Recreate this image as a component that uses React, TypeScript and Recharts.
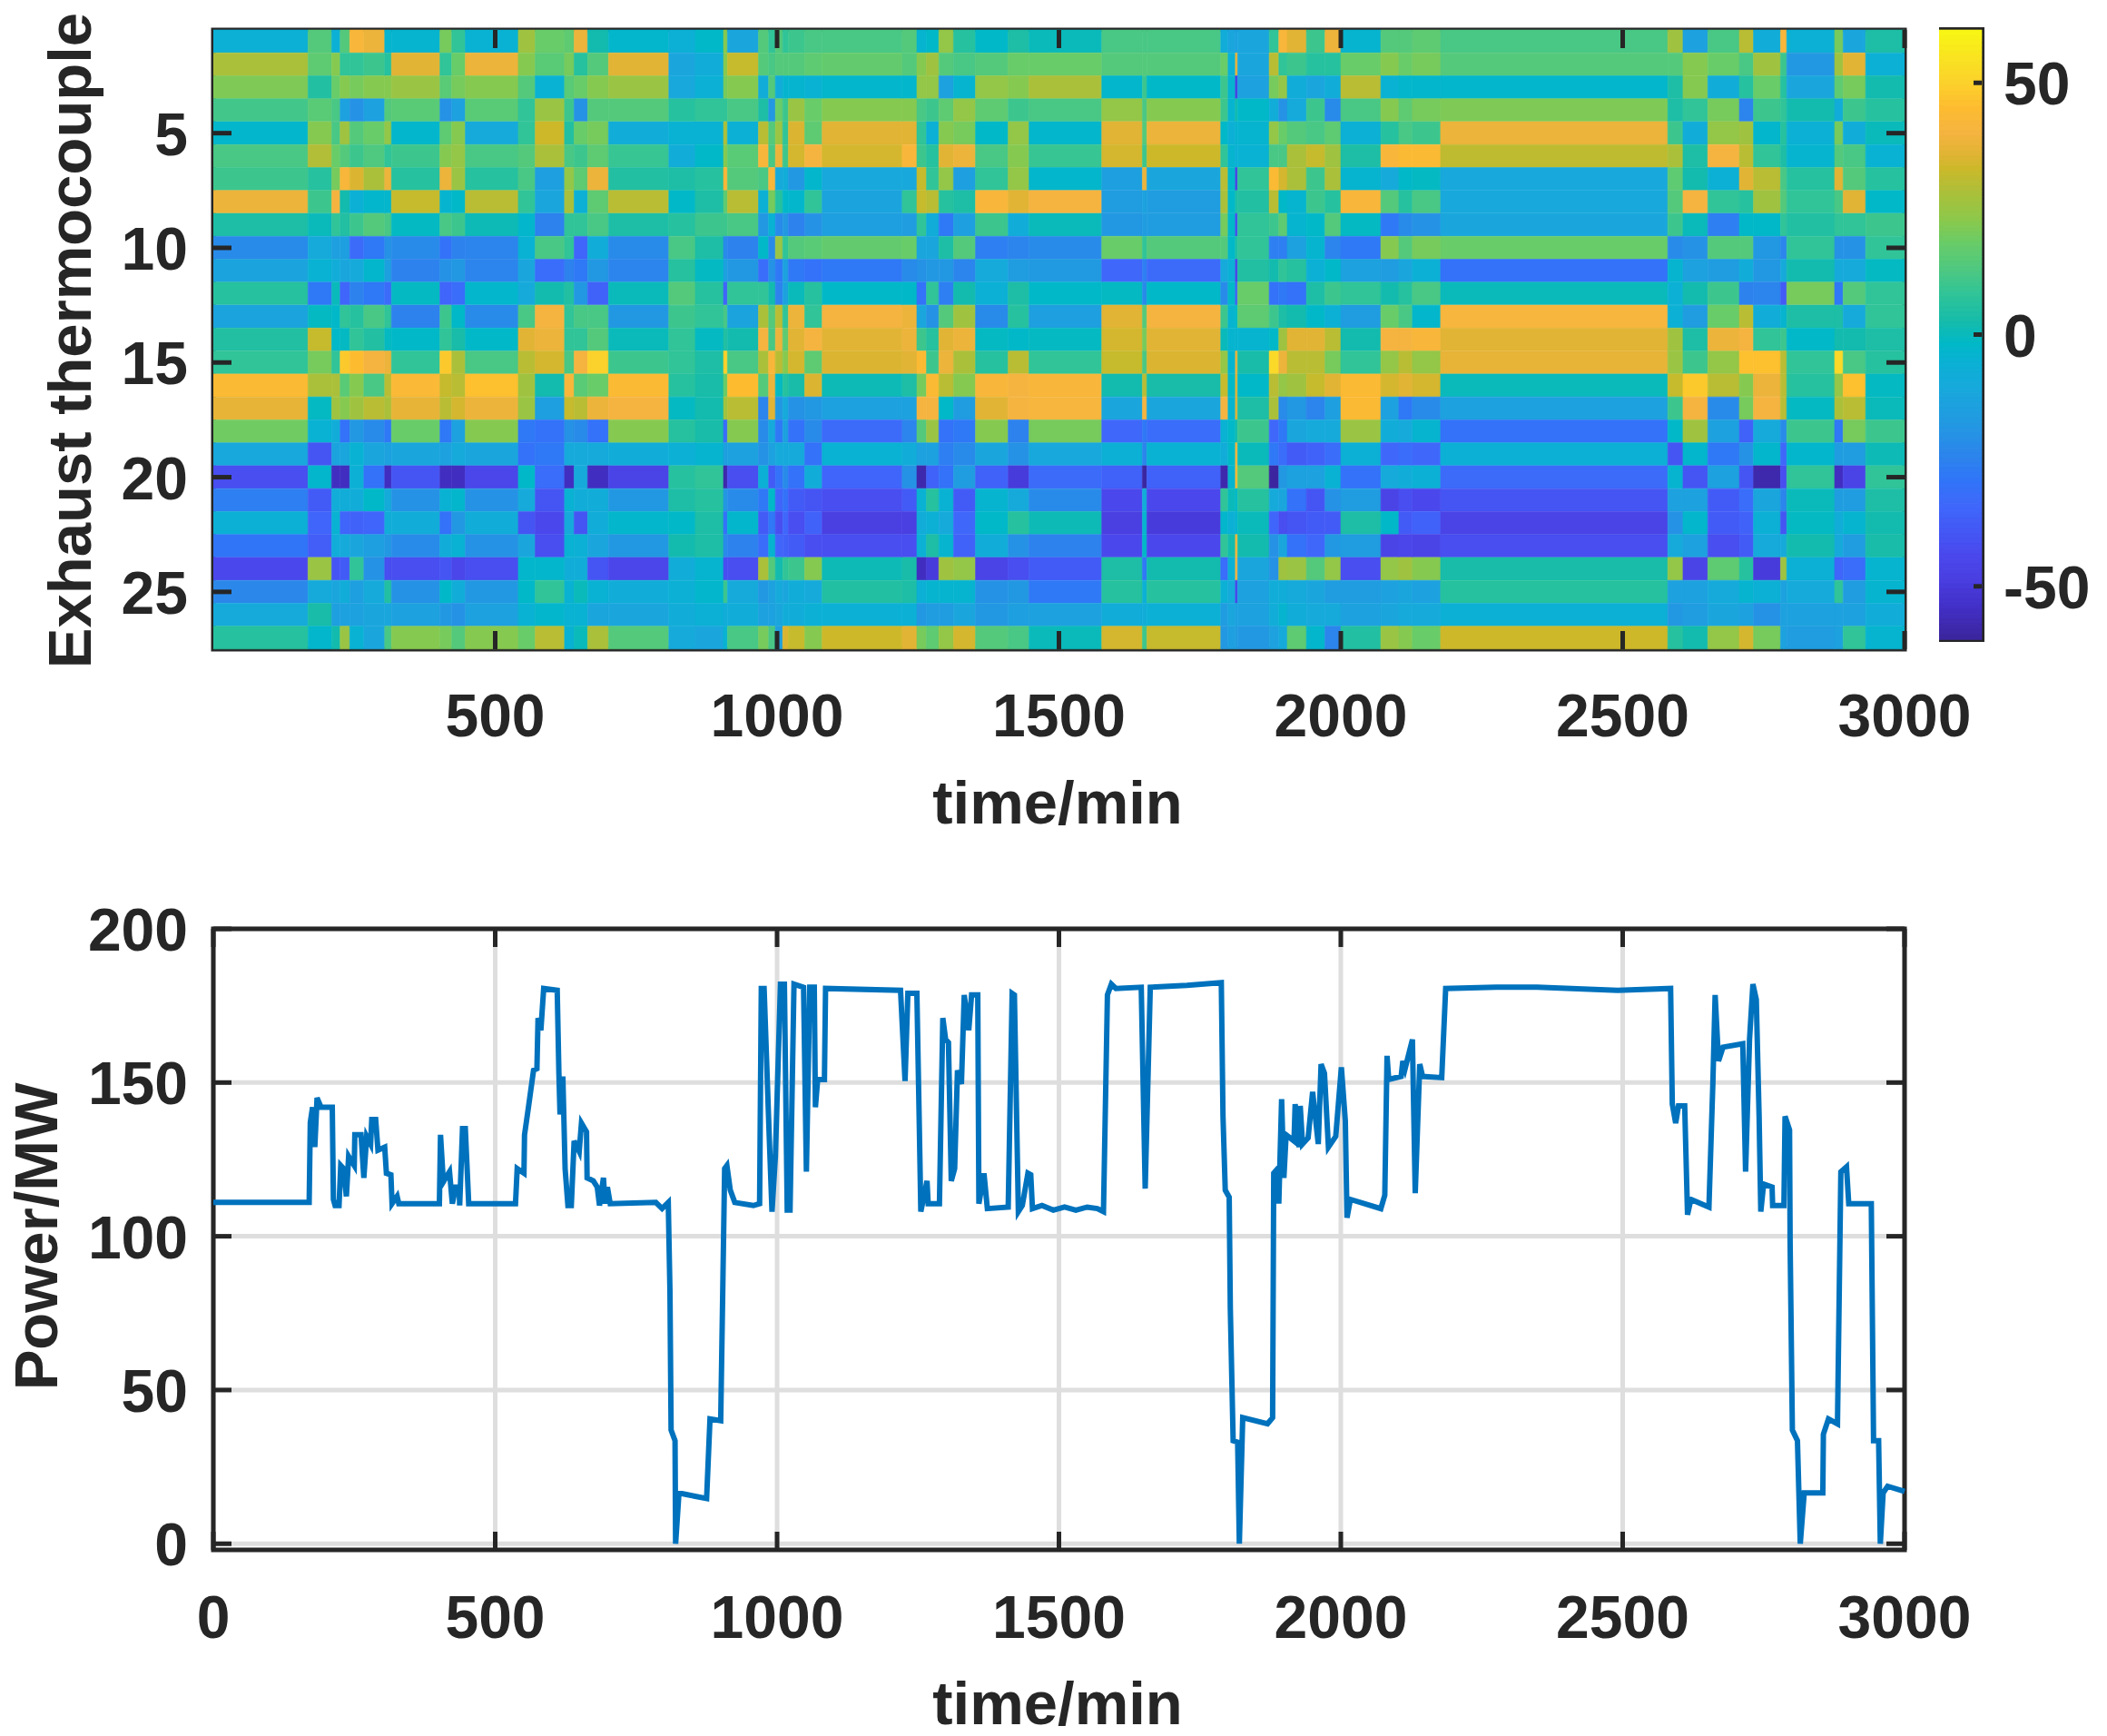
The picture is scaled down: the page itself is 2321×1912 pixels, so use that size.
import React from 'react'
import {
  Bar,
  BarChart,
  CartesianGrid,
  Cell,
  Line,
  LineChart,
  XAxis,
  YAxis,
} from 'recharts'

// ---- data ----

const timeTicks = [500, 1000, 1500, 2000, 2500, 3000]
const powerTimeTicks = [0, 500, 1000, 1500, 2000, 2500, 3000]
const powerTicks = [0, 50, 100, 150, 200]
const thermocoupleTicks = [5, 10, 15, 20, 25]
const colorbarTicks = [50, 0, -50]
const thermocouples = [1, 2, 3, 4, 5, 6, 7, 8, 9, 10, 11, 12, 13, 14, 15, 16, 17, 18, 19, 20, 21, 22, 23, 24, 25, 26, 27]

// time at which each heatmap column starts (last entry closes the final column)
const heatEdges = [
  0, 168, 210, 225, 242, 267, 304, 316, 402, 423, 447, 541, 571, 623, 640, 664, 701, 808, 855, 905,
  912, 967, 985, 997, 1010, 1020, 1049, 1080, 1222, 1248, 1265, 1287, 1313, 1352, 1410, 1447, 1576,
  1648, 1656, 1787, 1800, 1813, 1817, 1873, 1890, 1905, 1939, 1972, 2000, 2071, 2103, 2127, 2177,
  2580, 2607, 2651, 2707, 2732, 2780, 2791, 2876, 2891, 2931, 3000,
]

// one list per column, thermocouple 1 to 27 (temperature deviation)
const heatColumns = [
  [-6, 28, 21, 11, -3, 12, 10, 38, 4, -22, -13, 6, -13, 5, 8, 44, 37, 19, -11, -42, -26, -6, -29, -44, -23, -10, 6],
  [14, 16, 5, 15, 22, 29, 6, 10, 0, -10, -5, -28, -1, 32, 20, 28, -1, -5, -40, -3, -38, -35, -37, 25, -10, 3, -3],
  [-6, 22, 18, 12, 12, 18, 20, 40, 8, -15, -8, 0, -2, -2, 8, 28, 26, -8, -13, -55, -8, -5, -8, -40, -12, -15, 2],
  [14, 8, 22, -14, 26, 14, 42, 2, 5, -15, -12, -35, 8, -1, 48, 15, 22, -30, -12, -55, -8, -35, -10, -38, -8, -14, 25],
  [42, 8, 20, -20, 14, 10, 35, -6, 10, -33, -10, -25, 6, 8, 45, 22, 26, -18, -5, -6, -8, -36, -12, 8, -15, -14, -5],
  [38, 10, 22, -14, 18, 13, 28, -3, 14, -28, -3, -28, 12, 5, 40, 12, 30, -22, -12, -30, -2, -35, -15, -20, -10, -12, -12],
  [-4, 6, 22, 14, 24, 8, 38, -3, 12, -20, -15, -33, 8, -1, 38, 30, 28, -28, -14, -55, -10, -8, -18, -42, 5, -12, 12],
  [-4, 36, 25, 15, -3, 10, 6, 32, -1, -22, -25, -1, -25, -2, 8, 43, 37, 18, -12, -40, -20, -8, -22, -42, -20, -14, 22],
  [20, 8, 15, -20, 16, 22, 38, -4, 12, -30, -20, -35, 10, 8, 48, 32, 30, -28, -14, -55, -5, -30, -8, -40, -2, -18, 20],
  [8, 18, 20, -14, 22, 24, 25, -2, 10, -25, -18, -32, -2, 3, 28, 30, 34, -14, -10, -55, -3, -18, -5, -45, -8, -20, 14],
  [-5, 38, 22, 15, -10, 12, 6, 30, 1, -24, -24, -3, -22, -2, 12, 46, 38, 22, -12, -45, -20, -8, -20, -42, -18, -14, 22],
  [26, 22, 14, 8, 8, 14, 12, 8, -3, -5, -12, -10, 12, 36, 30, 26, 25, -28, -30, -2, -10, -40, -12, -3, -2, -5, 18],
  [18, 15, -5, 25, 33, 28, -15, -12, -25, 12, -32, 2, 40, 38, 34, 2, -15, -30, -28, -32, -40, -44, -42, -3, 8, -3, 30],
  [16, 20, 15, 10, 5, 12, 24, 28, 8, 8, -25, 5, 8, 8, 12, 42, 32, -20, -10, -55, -5, -10, -5, -8, -5, -5, -5],
  [38, 6, 18, -20, 18, 10, 16, -6, 8, -35, -28, -18, 12, 8, 40, 15, 30, -22, -10, -10, -8, -40, -6, -8, 0, -5, 0],
  [2, 14, 22, 14, 20, 16, 38, 16, 12, -8, -18, -36, 12, 14, 50, 18, 38, -30, -10, -55, -8, -8, -12, -40, -5, -12, 28],
  [-3, 36, 25, 14, -8, 9, 5, 30, 4, -22, -24, 0, -18, 0, 10, 44, 40, 22, -8, -46, -18, -3, -18, -45, -8, -12, 14],
  [-6, -12, -11, 6, -5, -8, 4, -2, 6, 12, 6, 14, 10, 8, 8, 6, -1, 6, -6, 6, 4, -2, 2, -8, -6, -8, -10],
  [-2, -8, -6, 8, -5, -2, 6, 4, 10, 4, -1, 6, 8, -1, 4, 3, 2, 3, -4, 8, 6, 4, 4, -4, -3, -6, -12],
  [22, 22, 20, 8, 28, 22, 42, 16, 10, -22, -14, -35, 12, 5, 50, 18, 26, -32, -15, -58, -18, -30, -22, -42, 10, -8, -5],
  [-12, 32, 22, 12, -6, 15, 14, 30, 12, -25, -18, 8, -13, 2, 12, 45, 30, 22, -14, -42, -22, -3, -25, -42, -10, -8, 12],
  [14, 14, -8, 4, 30, 42, 12, -6, -18, -2, -32, 8, 28, 40, 28, 14, -24, -22, -20, -6, -28, -38, -32, 28, -18, -14, 20],
  [8, 12, 14, -18, 14, 12, 42, 20, -5, -22, -20, 2, 14, 12, 42, 38, 36, -10, -14, -38, -2, -28, -4, 14, -14, -14, 12],
  [14, 14, -8, 18, 25, 38, -10, 6, -22, 25, -28, -25, 30, 38, 30, -1, -18, -28, -10, -30, -35, -42, -35, 2, -10, -12, -15],
  [8, 14, -4, 10, 8, 10, -8, -2, -18, 8, -14, -14, 8, 16, 22, 6, -10, -14, -10, -22, -30, -34, -36, 8, -12, -8, 35],
  [10, 14, -4, 25, 35, 34, -18, -3, -25, 14, -28, 0, 38, 36, 34, 3, -20, -30, -10, -30, -38, -42, -38, 10, -8, -8, 32],
  [12, 16, -5, 18, 16, 40, -3, 8, -20, 15, -30, 6, 8, 40, 16, 35, -18, -22, -30, -8, -40, -36, -42, 22, -10, -6, 22],
  [12, 17, -3, 22, 36, 34, -11, -13, -15, 17, -28, -2, 40, 36, 35, 1, -14, -33, -5, -35, -42, -48, -42, 1, 5, -6, 33],
  [14, 14, -3, 22, 36, 42, -11, 8, -16, 18, -22, -2, 38, 38, 36, 4, -14, -24, -8, -20, -38, -48, -42, 3, 4, -6, 36],
  [-4, 22, 24, 12, 8, 10, 32, 32, 8, -12, -20, -30, -12, 10, 44, 20, 40, 14, -14, -58, -5, -8, -6, -55, -6, -18, 20],
  [-2, 26, 24, 10, -6, 6, 8, 30, -8, -12, -18, 8, -20, 6, 10, 44, 40, 25, -14, -36, 6, -6, 4, -50, -4, -16, 16],
  [24, 14, -14, 16, 22, 36, 24, 6, -28, 4, -18, -26, 14, 36, 38, 30, -2, -30, -26, -30, -5, -10, -4, 26, -4, -16, 24],
  [6, 12, -4, 24, 20, 38, -15, 4, -15, 14, -24, 2, 26, 38, 28, 22, -16, -28, -22, -16, -38, -34, -36, 24, -4, -12, 34],
  [-2, 14, 24, 16, -2, 12, 8, 42, 10, -26, -10, -6, -22, -1, 6, 42, 36, 22, -12, -36, -4, -2, -8, -46, -20, -18, 14],
  [4, 18, 22, 10, 24, 22, 24, 36, -8, -24, -16, 4, 6, -2, 30, 40, 40, -25, -20, -50, -10, 6, -20, -42, -18, -15, 12],
  [0, 18, 28, 12, -3, 9, -3, 40, 0, -22, -17, -2, -15, -1, 8, 42, 41, 20, -11, -33, -22, 1, -25, -38, -28, -14, 0],
  [12, 14, -3, 24, 36, 34, -15, -16, -18, 18, -34, -1, 36, 34, 32, 2, -12, -34, -6, -36, -44, -48, -44, 4, 6, -8, 34],
  [12, 14, 10, 12, 14, 10, 38, -14, -16, 8, -26, -22, 14, 20, 12, 30, 40, -28, -24, -60, -8, -4, -2, -28, -6, -8, 10],
  [12, 14, -2, 22, 38, 33, -12, -16, -16, 14, -33, -2, 40, 36, 35, 3, -12, -32, -5, -36, -44, -50, -44, 2, 6, -6, 32],
  [-8, 18, 10, 10, -2, 8, 30, 28, 20, 14, -10, -22, 10, 0, 24, 32, 40, -5, -8, -58, 8, -3, 8, -32, -6, -16, -18],
  [-12, -6, -4, -4, -6, -4, -2, -2, -2, -2, -6, -2, -4, -4, -4, -2, -4, -2, -2, -4, 0, -6, 2, -6, -10, -12, -15],
  [-14, 38, -48, 2, -4, -6, -46, 4, -42, 4, -46, -36, -2, -4, 38, 36, 36, 2, 42, 44, -2, -4, 42, 40, -45, -14, -16],
  [-12, -12, -14, -2, -4, -5, 8, 5, 8, 8, 5, 18, 16, -4, 3, -2, 4, 10, 0, 14, 6, 0, 2, -12, -14, -14, -18],
  [8, 30, 20, -8, 24, 12, 44, 30, 10, -26, 2, -30, 10, -2, 52, 30, 28, -34, -28, -60, -10, -35, -20, -20, -8, -8, -14],
  [42, 8, 24, -20, 18, 12, 34, -2, 16, -26, 8, -28, 4, 26, 38, 24, -22, -28, -32, -18, -12, -42, -12, 26, -8, -4, -10],
  [36, 10, -8, -10, 14, 28, 28, -4, -4, -14, 6, -30, 2, 36, 30, 26, -18, -12, -38, -14, -30, -40, -30, 25, -10, -8, 16],
  [10, 6, -12, 10, 12, 32, 10, 10, -2, -4, -6, 4, -2, 36, 30, 32, -24, -10, -36, -14, -40, -38, -34, 14, -12, -10, -3],
  [38, 6, -8, -22, 16, 26, 28, 6, 14, -24, -2, 10, -6, 30, 20, 36, -15, -10, -32, -5, -20, -38, -18, 24, -16, -10, -24],
  [-4, 18, 30, 12, -6, 4, -4, 42, -1, -28, -14, 8, -16, 2, 8, 44, 44, 25, -6, -30, -16, 4, -16, -42, -16, -14, 5],
  [14, 22, -5, 22, 6, 42, -10, 14, -28, 22, -16, 2, 18, 40, 24, 34, -14, -8, -34, -10, -46, -2, -46, 24, -14, -12, 25],
  [14, 18, -3, 16, 12, 44, -2, 6, -22, 14, -12, 6, 12, 40, 30, 36, -28, -10, -32, -8, -42, -38, -45, 26, -12, -10, 22],
  [16, 20, -3, 20, 10, 44, -1, 12, -20, 20, -6, 12, -3, 42, 24, 34, -22, -4, -34, -6, -44, -36, -46, 22, -14, -10, 18],
  [12, 14, -3, 21, 38, 31, -11, -11, -12, 18, -30, 0, 41, 36, 37, 0, -14, -30, -6, -33, -40, -46, -42, 3, 6, -6, 33],
  [26, 14, 4, 4, 10, 28, 16, 14, 10, -22, -4, -6, -6, 26, 25, 32, 10, -2, -40, -4, -14, -20, -10, 24, -14, -18, 6],
  [-14, 22, 22, 8, -8, 4, 2, 40, 0, -20, -14, 2, -16, 4, 10, 48, 40, 26, -3, -40, -14, -3, -14, -46, -14, -16, 2],
  [12, 18, -8, 20, 24, 40, -6, 8, -26, 14, -16, 10, 18, 38, 24, 30, -22, -14, -28, -14, -38, -38, -42, 16, -10, -12, 24],
  [30, 12, 6, -24, 26, 30, 36, 6, -2, 14, -8, -25, 30, 40, 46, 22, 20, -36, -20, -40, -32, -36, -38, 6, -4, -14, 34],
  [-8, 26, 18, 10, -3, 8, 30, 26, -2, -18, -18, -24, -8, 8, 46, 38, 40, -10, -3, -58, -12, -6, -10, -50, -6, -20, 20],
  [42, 10, 6, 8, 6, 4, 12, 14, 8, -24, -10, -38, -4, 10, 30, 30, 30, -22, -34, -42, -24, -40, -10, 26, -14, -14, -14],
  [-6, -18, -12, 2, -6, -4, 6, 8, 5, 8, 2, 20, 4, -2, 8, 6, -1, 10, -3, 8, 0, -1, 2, -6, -10, -14, -16],
  [20, 26, 16, -8, 20, 14, 36, 12, 8, -20, -10, -28, 4, 2, 52, 24, 28, -28, -16, -55, -16, -8, -10, -35, 8, -14, -14],
  [-12, 36, 20, 10, -8, 12, 14, 36, 8, -20, -10, 14, -10, 2, 12, 46, 30, 20, -16, -46, -16, -4, -16, -32, -16, -14, 8],
  [4, -6, 2, 6, 0, -5, 6, -2, 10, 8, -1, 8, 8, 4, 6, -1, 0, 10, 1, 8, 4, 2, 3, -4, -4, -8, -4],
]

const colorLevels = [
  60, 59, 58, 57, 56, 55, 54, 53, 52, 51, 50, 49, 48, 47, 46, 45, 44, 43, 42, 41, 40, 39, 38, 37, 36, 35, 34, 33, 32, 31,
  30, 29, 28, 27, 26, 25, 24, 23, 22, 21, 20, 19, 18, 17, 16, 15, 14, 13, 12, 11, 10, 9, 8, 7, 6, 5, 4, 3, 2, 1, 0,
  -1, -2, -3, -4, -5, -6, -7, -8, -9, -10, -11, -12, -13, -14, -15, -16, -17, -18, -19, -20, -21, -22, -23, -24, -25, -26, -27, -28, -29, -30,
  -31, -32, -33, -34, -35, -36, -37, -38, -39, -40, -41, -42, -43, -44, -45, -46, -47, -48, -49, -50, -51, -52, -53, -54, -55, -56, -57, -58, -59, -60,
]

const powerTimes = [
  0, 170, 172, 176, 180, 184, 191, 211, 213, 216, 223, 226, 231, 236, 240, 250, 251, 262, 267, 272, 279, 281, 288, 292, 304, 307, 315, 317, 326, 329,
  401, 403, 408, 419, 424, 430, 436, 437, 442, 447, 453, 536, 539, 551, 552, 559, 568, 574, 576, 581, 586, 610, 613, 615, 620, 624, 629, 635, 640, 649,
  653, 662, 663, 674, 681, 685, 692, 695, 699, 704, 785, 796, 807, 810, 812, 819, 820, 826, 839, 875, 881, 900, 904, 907, 911, 917, 925, 958, 969, 972,
  977, 986, 991, 997, 1006, 1013, 1018, 1023, 1030, 1047, 1052, 1058, 1066, 1068, 1072, 1084, 1086, 1219, 1227, 1232, 1248, 1252, 1255, 1266, 1268, 1288, 1294, 1299, 1304, 1309,
  1315, 1320, 1327, 1332, 1340, 1345, 1356, 1358, 1367, 1373, 1410, 1417, 1421, 1428, 1435, 1445, 1450, 1453, 1470, 1490, 1510, 1530, 1550, 1568, 1579, 1586, 1593, 1601, 1646, 1653, 1662, 1727, 1788, 1791, 1795,
  1802, 1804, 1809, 1817, 1820, 1826, 1870, 1879, 1881, 1888, 1890, 1895, 1899, 1903, 1917, 1919, 1926, 1928, 1932, 1942, 1950, 1960, 1965, 1971, 1978, 1991, 2001, 2008, 2011, 2017,
  2071, 2078, 2082, 2085, 2107, 2110, 2114, 2127, 2132, 2140, 2145, 2179, 2186, 2276, 2348, 2491, 2585, 2588, 2594, 2599, 2610, 2615, 2621, 2653, 2660, 2664, 2670, 2678, 2713, 2718,
  2725, 2731, 2737, 2742, 2745, 2750, 2765, 2766, 2786, 2788, 2796, 2797, 2801, 2810, 2815, 2822, 2855, 2856, 2865, 2881, 2887, 2897, 2901, 2941, 2945, 2954, 2957, 2962, 2970, 3000,
]

const powerValues = [
  111, 111, 137, 142, 129, 145, 142, 142, 112, 110, 110, 123, 122, 113, 126, 123, 133, 133, 119, 132.5, 130, 138, 138, 128, 129, 120.5, 120, 110.6, 113, 110.6,
  110.6, 133, 117.7, 121, 110.6, 116, 116, 110, 135, 135, 110.6, 110.6, 122, 120.5, 133, 142, 154, 154.5, 171, 167, 180.6, 180, 153, 139.6, 152, 122, 110, 110, 131, 127.6,
  136.8, 134, 119, 118, 116, 110, 119, 110.6, 116, 110.6, 111, 109, 111, 82, 37, 33.5, 0, 16.5, 16, 14.7, 40.6, 40, 86.6, 122, 123, 115, 111, 110, 110.6, 180.6,
  180.6, 133, 108, 126, 182, 182, 108.5, 108.5, 182, 181, 121, 181, 181, 142, 151, 151, 180.6, 180, 150.5, 179, 179, 139, 108, 118, 110.6, 110.6, 171, 164, 163, 118,
  122, 154, 149.5, 178.5, 167, 178.5, 178.5, 110.6, 120.5, 109, 109.5, 179, 178.5, 108, 110, 120.5, 120, 109, 110, 108.5, 109.5, 108.5, 109.5, 109, 108, 178.5, 182, 180.6, 181, 115.5, 181, 181.6, 182.5, 139, 115,
  112.7, 76.6, 33.5, 33, 0, 41, 39, 41, 120.5, 122, 110.6, 144.6, 119, 133, 131, 143, 129, 142.4, 130, 132, 147, 130, 156, 153, 129, 132.5, 155, 137.5, 106, 112,
  109, 113.4, 158.7, 151, 152, 157, 154.5, 164, 114, 156, 152, 151.6, 180.6, 181, 181, 180, 180.6, 143, 136.8, 142.4, 142.4, 107, 112, 109.5, 150, 178.5, 157, 161.5, 162.6, 121,
  164, 182, 177, 139, 108, 117, 116, 110, 110, 139, 134.6, 98, 37, 33.5, 0, 16.5, 16.5, 35.6, 40.6, 39, 121, 122.6, 110.6, 110.6, 33.5, 33.5, 0, 16.5, 18.7, 17,
]

// ---- styling ----

const INK = '#262626'
const FONT = '"Liberation Sans", Arial, sans-serif'
const TICK_SIZE = 66
const TITLE_SIZE = 67
const TICK_LEN = 20

const PLOT_LEFT = 235
const PLOT_RIGHT = 2098
const HEAT_TOP = 33
const HEAT_BOTTOM = 715
const POWER_TOP = 1023
const POWER_BOTTOM = 1707
const PAGE_W = 2321

// value -> colour stops sampled from the reference colorbar
const parulaStops: [number, number, number, number][] = [
  [-60, 60, 38, 160],
  [-54, 66, 48, 200],
  [-49, 74, 62, 224],
  [-44, 74, 72, 236],
  [-39, 68, 88, 245],
  [-34, 63, 104, 251],
  [-29, 48, 117, 248],
  [-24, 44, 133, 236],
  [-18, 35, 152, 226],
  [-11, 24, 168, 220],
  [-6, 12, 176, 213],
  [-2, 0, 184, 200],
  [3, 24, 188, 168],
  [8, 48, 196, 152],
  [13, 79, 200, 128],
  [18, 104, 204, 104],
  [23, 142, 200, 74],
  [28, 171, 192, 58],
  [33, 205, 184, 42],
  [36, 226, 180, 53],
  [40, 245, 180, 64],
  [45, 253, 188, 48],
  [51, 251, 213, 42],
  [60, 248, 245, 21],
]

function parula(v: number) {
  for (let i = 1; i < parulaStops.length; i++) {
    const a = parulaStops[i - 1]
    const b = parulaStops[i]
    if (v <= b[0]) {
      const f = Math.max(0, (v - a[0]) / (b[0] - a[0]))
      const mix = (k: number) => Math.round(a[k] + (b[k] - a[k]) * f)
      return `rgb(${mix(1)},${mix(2)},${mix(3)})`
    }
  }
  return 'rgb(248,245,21)'
}

const heatRows = thermocouples.map((row) => {
  const entry: Record<string, number> = { row }
  heatColumns.forEach((_, i) => {
    entry[`s${i}`] = heatEdges[i + 1] - heatEdges[i]
  })
  return entry
})
const colorRows = colorLevels.map((level) => ({ level, span: 1 }))
const powerData = powerTimes.map((t, i) => ({ t, p: powerValues[i] }))

const labelStyle = { fontFamily: FONT, fontWeight: 700, fill: INK }

function xTick(top: number, bottom: number, labelY: number) {
  return ({ x, payload }: any) => (
    <g>
      <line x1={x} x2={x} y1={bottom} y2={bottom - TICK_LEN} stroke={INK} strokeWidth={5} />
      <line x1={x} x2={x} y1={top} y2={top + TICK_LEN} stroke={INK} strokeWidth={5} />
      <text x={x} y={labelY} textAnchor="middle" fontSize={TICK_SIZE} {...labelStyle}>
        {payload.value}
      </text>
    </g>
  )
}

function yTick() {
  return ({ y, payload }: any) => (
    <g>
      <line x1={PLOT_LEFT} x2={PLOT_LEFT + TICK_LEN} y1={y} y2={y} stroke={INK} strokeWidth={5} />
      <line x1={PLOT_RIGHT} x2={PLOT_RIGHT - TICK_LEN} y1={y} y2={y} stroke={INK} strokeWidth={5} />
      <text x={207} y={y + 24} textAnchor="end" fontSize={TICK_SIZE} {...labelStyle}>
        {payload.value}
      </text>
    </g>
  )
}

export default function App() {
  return (
    <div
      style={{
        position: 'absolute',
        left: 0,
        top: 0,
        width: 2321,
        height: 1912,
        background: '#fff',
        filter: 'blur(0.6px)',
      }}
    >
      {/* Heatmap */}
      <div style={{ position: 'absolute', left: 0, top: 0 }}>
        <BarChart
          width={PAGE_W}
          height={950}
          data={heatRows}
          layout="vertical"
          barCategoryGap={0}
          margin={{ top: HEAT_TOP, left: PLOT_LEFT - 120, right: PAGE_W - PLOT_RIGHT, bottom: 950 - HEAT_BOTTOM - 100 }}
        >
          {heatColumns.map((column, i) => (
            <Bar key={i} dataKey={`s${i}`} stackId="heat" isAnimationActive={false}>
              {column.map((v, r) => (
                <Cell key={r} fill={parula(v)} stroke={parula(v)} strokeWidth={0.6} />
              ))}
            </Bar>
          ))}
          <XAxis
            type="number"
            domain={[0, 3000]}
            ticks={timeTicks}
            height={100}
            axisLine={false}
            tickLine={false}
            allowDataOverflow
            tick={xTick(HEAT_TOP, HEAT_BOTTOM, 811)}
          />
          <YAxis
            type="category"
            dataKey="row"
            ticks={thermocoupleTicks}
            width={120}
            interval={0}
            axisLine={false}
            tickLine={false}
            tick={yTick()}
          />
          <rect
            x={PLOT_LEFT}
            y={HEAT_TOP}
            width={PLOT_RIGHT - PLOT_LEFT}
            height={HEAT_BOTTOM - HEAT_TOP}
            fill="none"
            stroke={INK}
            strokeWidth={5}
          />
          <text x={1165} y={907} textAnchor="middle" fontSize={TITLE_SIZE} {...labelStyle}>
            time/min
          </text>
          <text
            transform="translate(100 375) rotate(-90)"
            textAnchor="middle"
            fontSize={TITLE_SIZE}
            {...labelStyle}
          >
            Exhaust thermocouple
          </text>
        </BarChart>
      </div>

      {/* Colorbar */}
      <div style={{ position: 'absolute', left: 2136, top: 0 }}>
        <BarChart
          width={185}
          height={950}
          data={colorRows}
          layout="vertical"
          barCategoryGap={0}
          margin={{ top: HEAT_TOP, left: 0, right: 0, bottom: 950 - 704 }}
        >
          <Bar dataKey="span" isAnimationActive={false}>
            {colorLevels.map((v) => (
              <Cell key={v} fill={parula(v)} stroke={parula(v)} strokeWidth={0.6} />
            ))}
          </Bar>
          <XAxis type="number" domain={[0, 1]} hide />
          <YAxis
            type="category"
            dataKey="level"
            orientation="right"
            ticks={colorbarTicks}
            width={138}
            interval={0}
            axisLine={false}
            tickLine={false}
            tick={({ y, payload }: any) => (
              <g>
                <line x1={47} x2={38} y1={y} y2={y} stroke={INK} strokeWidth={5} />
                <text x={71} y={y + 24} textAnchor="start" fontSize={TICK_SIZE} {...labelStyle}>
                  {payload.value}
                </text>
              </g>
            )}
          />
          <rect x={1} y={HEAT_TOP} width={46} height={704 - HEAT_TOP} fill="none" stroke={INK} strokeWidth={6} />
        </BarChart>
      </div>

      {/* Power trace */}
      <div style={{ position: 'absolute', left: 0, top: 950 }}>
        <LineChart
          width={PAGE_W}
          height={962}
          data={powerData}
          margin={{
            top: POWER_TOP - 950,
            left: PLOT_LEFT - 120,
            right: PAGE_W - PLOT_RIGHT,
            bottom: 1912 - POWER_BOTTOM - 100,
          }}
        >
          <CartesianGrid stroke="#dedede" strokeWidth={5} horizontalValues={powerTicks} verticalValues={powerTimeTicks} />
          <XAxis
            type="number"
            dataKey="t"
            domain={[0, 3000]}
            ticks={powerTimeTicks}
            height={100}
            axisLine={false}
            tickLine={false}
            tick={xTick(POWER_TOP - 950, POWER_BOTTOM - 950, 1804 - 950)}
          />
          <YAxis
            type="number"
            domain={[-2, 200]}
            ticks={powerTicks}
            width={120}
            axisLine={false}
            tickLine={false}
            tick={yTick()}
          />
          <Line
            type="linear"
            dataKey="p"
            stroke="#0072bd"
            strokeWidth={6}
            dot={false}
            isAnimationActive={false}
          />
          <rect
            x={PLOT_LEFT}
            y={POWER_TOP - 950}
            width={PLOT_RIGHT - PLOT_LEFT}
            height={POWER_BOTTOM - POWER_TOP}
            fill="none"
            stroke={INK}
            strokeWidth={5}
          />
          <text x={1165} y={1899 - 950} textAnchor="middle" fontSize={TITLE_SIZE} {...labelStyle}>
            time/min
          </text>
          <text
            transform={`translate(63 ${1362 - 950}) rotate(-90)`}
            textAnchor="middle"
            fontSize={TITLE_SIZE}
            {...labelStyle}
          >
            Power/MW
          </text>
        </LineChart>
      </div>
    </div>
  )
}
